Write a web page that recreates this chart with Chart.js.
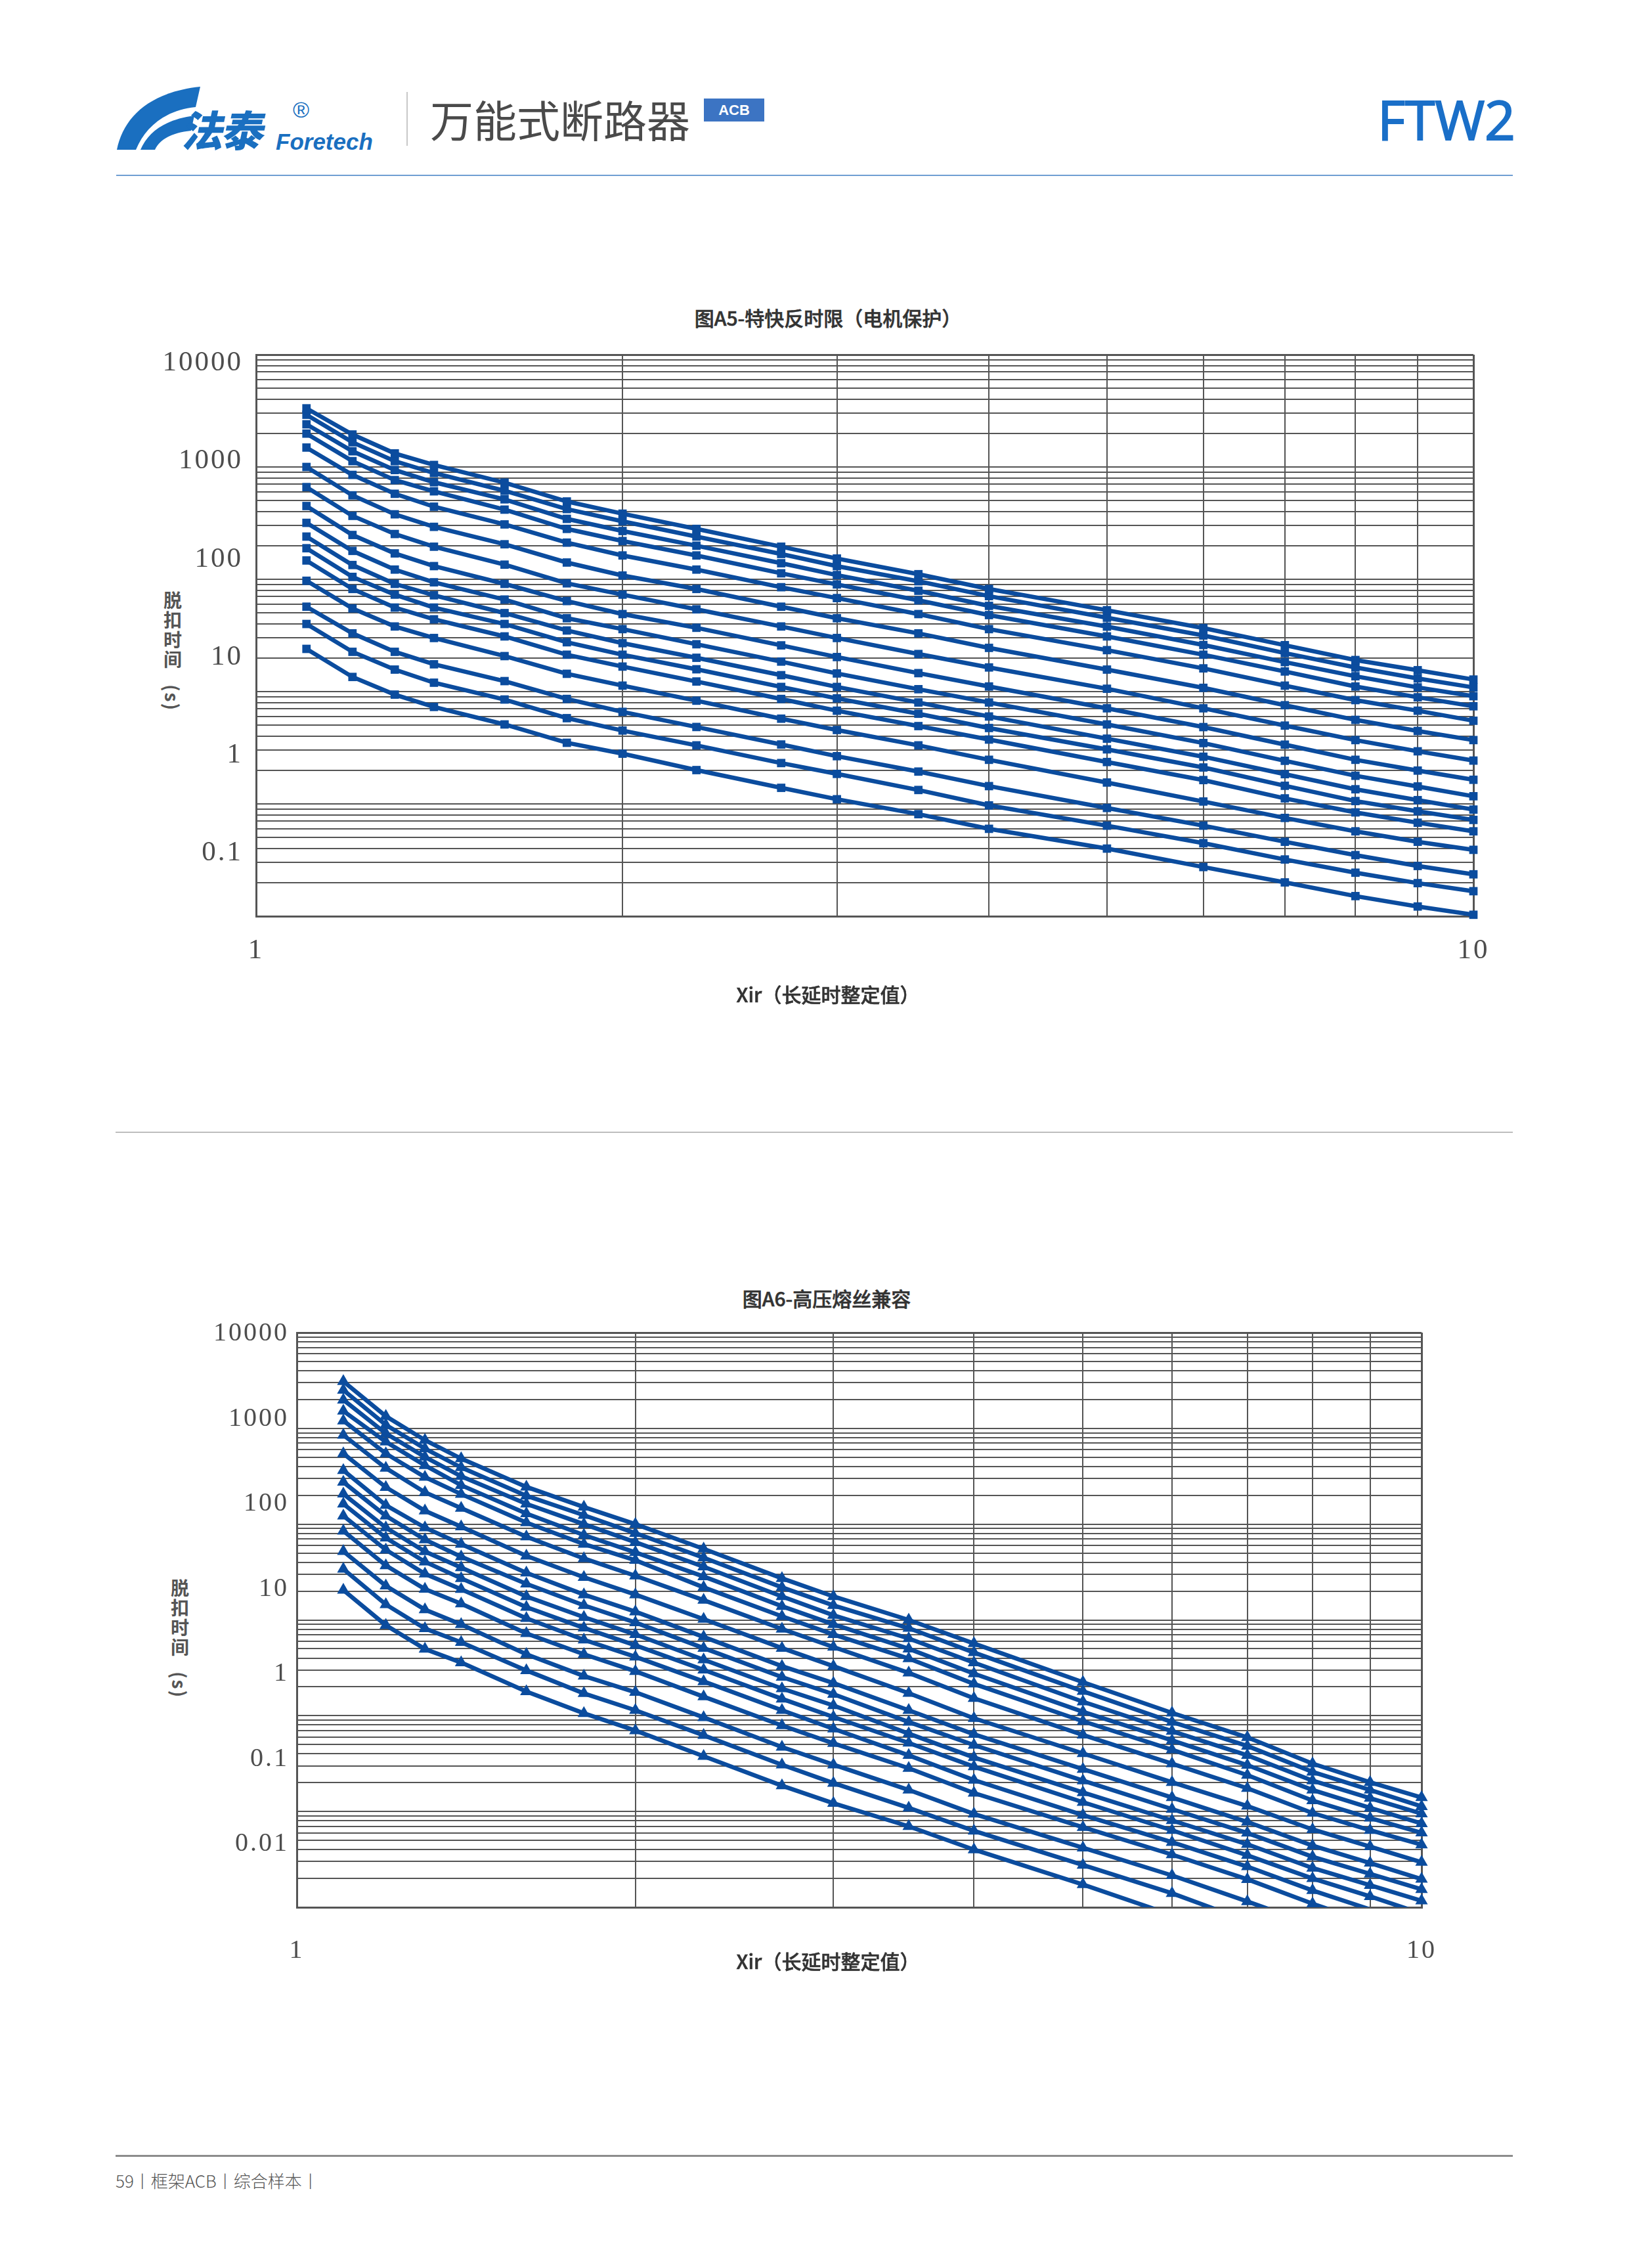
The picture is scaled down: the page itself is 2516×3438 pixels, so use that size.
<!DOCTYPE html>
<html lang="zh-CN">
<head>
<meta charset="utf-8">
<title>FTW2 万能式断路器 - 图A5 / 图A6</title>
<script src="https://cdn.jsdelivr.net/npm/chart.js@4.4.1/dist/chart.umd.min.js"></script>
<style>
  html, body { margin: 0; padding: 0; background: #fff; }
  #page { position: relative; width: 2516px; height: 3438px; overflow: hidden;
          font-family: "Noto Sans CJK SC", "Noto Sans", sans-serif; }
  .abs { position: absolute; white-space: nowrap; line-height: 1; }
  .hline { position: absolute; }
  .ctitle { font-size: 30px; color: #333; font-weight: 500; -webkit-text-stroke: 0.6px #333; transform: translateX(-50%); }
  .ytitle { writing-mode: vertical-rl; font-size: 28px; letter-spacing: 2px; color: #555; font-weight: 600; }
  canvas { position: absolute; }
</style>
</head>
<body>
<div id="page">

  <!-- header / logo -->
  <svg class="abs" style="left:0;top:0" width="640" height="260">
    <path d="M178,228 C188,178 228,140 305,132 L298,163 C252,168 222,192 207,228 Z" fill="#1a6fc0"/>
    <path d="M214,228 C226,200 252,182 296,176 L291,199 C262,202 243,212 236,228 Z" fill="#1a6fc0"/>
  </svg>
  <div class="abs" style="left:281px;top:163px;font-size:64px;font-weight:900;color:#1a6fc0;transform:skewX(-12deg);letter-spacing:-3px">法泰</div>
  <div class="abs" style="left:446px;top:150px;font-size:34px;color:#1a6fc0;font-family:'Liberation Sans',sans-serif">®</div>
  <div class="abs" style="left:420px;top:198px;font-size:35px;font-weight:700;font-style:italic;color:#1a6fc0;font-family:'Liberation Sans',sans-serif">Foretech</div>
  <div class="hline" style="left:619px;top:140px;width:2px;height:82px;background:#c8c8c8"></div>
  <div class="abs" style="left:655px;top:147px;font-size:66px;color:#4a4a4a">万能式断路器</div>
  <div class="abs" style="left:1072px;top:150px;width:92px;height:35px;background:#3c74c3;color:#fff;font:700 22px 'Liberation Sans',sans-serif;text-align:center;line-height:35px">ACB</div>
  <div class="abs" style="right:208px;top:140px;font-size:82px;font-weight:500;color:#1a6fc8;-webkit-text-stroke:2px #1a6fc8;font-family:'Open Sans',sans-serif">FTW2</div>
  <div class="hline" style="left:177px;top:266px;width:2127px;height:2px;background:#6f9fd2"></div>

  <!-- chart A5 -->
  <div class="abs ctitle" style="left:1261px;top:468px">图A5-特快反时限（电机保护）</div>
  <div class="abs ytitle" style="left:249px;top:900px">脱扣时间</div>
  <div class="abs ytitle" style="left:249px;top:1042px">(s)</div>
  <canvas id="chartA5" width="2200" height="1000" style="left:150px;top:500px;width:2200px;height:1000px"></canvas>
  <div class="abs ctitle" style="left:1261px;top:1498px">Xir（长延时整定值）</div>

  <div class="hline" style="left:176px;top:1723px;width:2128px;height:2px;background:#bdbdbd"></div>

  <!-- chart A6 -->
  <div class="abs ctitle" style="left:1259px;top:1961px">图A6-高压熔丝兼容</div>
  <div class="abs ytitle" style="left:260px;top:2404px">脱扣时间</div>
  <div class="abs ytitle" style="left:260px;top:2545px">(s)</div>
  <canvas id="chartA6" width="2100" height="1020" style="left:150px;top:1990px;width:2100px;height:1020px"></canvas>
  <div class="abs ctitle" style="left:1261px;top:2970px">Xir（长延时整定值）</div>

  <!-- footer -->
  <div class="hline" style="left:176px;top:3281px;width:2128px;height:3px;background:#8c8c8c"></div>
  <div class="abs" style="left:176px;top:3307px;font-size:26px;color:#555;font-weight:300">59丨框架ACB丨综合样本丨</div>
</div>

<script>
// multiples of Ir where the curves have a marker
const xSteps = [1.1, 1.2, 1.3, 1.4, 1.6, 1.8, 2, 2.3, 2.7, 3, 3.5, 4, 5, 6, 7, 8, 9, 10];

// 图A5 特快反时限 - trip time (s), one array per curve, top to bottom
const a5_01 = [3327, 1946, 1321, 1042, 726, 493, 384, 281, 195, 153, 111, 82, 53, 36.8, 25.9, 19.1, 15.5, 12.8];
const a5_02 = [2917, 1660, 1127, 883, 614, 422, 328, 240, 168, 131, 96, 70.8, 45.5, 31.6, 22, 16.4, 13.1, 10.9];
const a5_03 = [2399, 1380, 939, 731, 515, 345, 269, 199, 139, 109, 79, 58, 37.9, 26, 18.3, 13.7, 10.9, 9.1];
const a5_04 = [1982, 1127, 764, 607, 417, 281, 219, 163, 113, 90, 65, 48, 31, 21.3, 15.1, 11.1, 8.9, 7.4];
const a5_05 = [1489, 850, 577, 443, 308, 212, 163, 122, 85, 68, 49, 36, 23.4, 16.1, 11.3, 8.4, 6.76, 5.5];
const a5_06 = [1000, 559, 379, 293, 205, 141, 108, 82, 57, 45, 33, 24.5, 15.7, 10.8, 7.56, 5.6, 4.46, 3.7];
const a5_07 = [662, 367, 253, 195, 135, 92, 73, 54, 38, 30, 21.6, 16.4, 10.6, 7.1, 4.98, 3.7, 2.94, 2.43];
const a5_08 = [449, 248, 170, 131, 91, 64, 49, 37, 25.8, 20.3, 14.6, 11.1, 7.1, 4.83, 3.37, 2.47, 1.98, 1.64];
const a5_09 = [318, 179, 122, 94, 66, 45, 36, 26.4, 18.5, 14.5, 10.5, 8.0, 5.1, 3.48, 2.42, 1.78, 1.43, 1.17];
const a5_10 = [240, 134, 91, 72, 50, 35, 27, 20, 14, 11, 8.0, 6.0, 3.81, 2.63, 1.84, 1.35, 1.08, 0.89];
const a5_11 = [189, 105, 73, 56, 40, 27.5, 21.3, 15.8, 11, 8.7, 6.35, 4.74, 3.06, 2.11, 1.45, 1.06, 0.86, 0.72];
const a5_12 = [147, 82, 56, 44, 31, 21.3, 16.7, 12.3, 8.6, 6.76, 4.93, 3.74, 2.36, 1.63, 1.12, 0.84, 0.68, 0.57];
const a5_13 = [97, 55, 38, 30, 20.7, 14.4, 11.3, 8.3, 5.74, 4.55, 3.32, 2.47, 1.55, 1.05, 0.75, 0.57, 0.46, 0.39];
const a5_14 = [57, 33, 22.6, 17.5, 12.4, 8.6, 6.6, 4.84, 3.38, 2.66, 1.94, 1.44, 0.92, 0.64, 0.46, 0.35, 0.28, 0.236];
const a5_15 = [40, 22.6, 15.7, 12, 8.5, 5.8, 4.5, 3.32, 2.31, 1.85, 1.33, 0.97, 0.64, 0.447, 0.32, 0.244, 0.197, 0.167];
const a5_16 = [24, 13.5, 9.4, 7.3, 5.1, 3.5, 2.8, 2.0, 1.39, 1.1, 0.81, 0.60, 0.40, 0.274, 0.20, 0.151, 0.122, 0.103];

// 图A6 高压熔丝兼容 - lower curves run off the 0.01 s floor (null = not plotted)
const a6_01 = [3097, 1340, 754, 484, 245, 151, 100, 55.3, 27.2, 17.6, 10.0, 5.68, 2.24, 1.07, 0.594, 0.316, 0.202, 0.14];
const a6_02 = [2512, 1087, 615, 391, 198, 124, 80.5, 44.6, 21.9, 14.2, 8.2, 4.57, 1.80, 0.86, 0.483, 0.259, 0.168, 0.113];
const a6_03 = [1986, 886, 503, 316, 163, 100, 64.8, 35.9, 17.6, 11.2, 6.4, 3.58, 1.40, 0.69, 0.386, 0.21, 0.138, 0.095];
const a6_04 = [1520, 724, 411, 255, 129, 77, 50.8, 28.4, 13.9, 9.0, 5.0, 2.75, 1.10, 0.552, 0.305, 0.168, 0.109, 0.075];
const a6_05 = [1202, 546, 310, 206, 104, 62, 42, 21.9, 10.9, 7.06, 3.95, 2.15, 0.875, 0.442, 0.24, 0.13, 0.0855, 0.06];
const a6_06 = [851, 385, 215, 147, 74, 43.8, 28.9, 16.1, 8.05, 5.21, 2.8, 1.52, 0.63, 0.316, 0.175, 0.0964, 0.0637, 0.045];
const a6_07 = [546, 243, 138, 94, 46.6, 27.9, 18.4, 10.2, 5.08, 3.29, 1.72, 0.94, 0.404, 0.202, 0.114, 0.065, 0.043, 0.0296];
const a6_08 = [364, 158, 92, 62, 31, 18.4, 12.2, 6.65, 3.29, 2.19, 1.14, 0.64, 0.277, 0.14, 0.0778, 0.044, 0.029, 0.0197];
const a6_09 = [275, 122, 69, 45.7, 23.8, 14.2, 9.4, 5.08, 2.53, 1.68, 0.86, 0.494, 0.21, 0.106, 0.0597, 0.0337, 0.0223, 0.0154];
const a6_10 = [207, 92, 51.8, 35.2, 17.6, 10.7, 7.06, 3.85, 1.92, 1.28, 0.65, 0.367, 0.158, 0.0807, 0.0455, 0.0257, 0.017, 0.0117];
const a6_11 = [163, 72, 40.5, 27.2, 13.6, 8.26, 5.44, 3.01, 1.50, 0.97, 0.52, 0.294, 0.125, 0.0637, 0.0349, 0.02, 0.013, 0.0086];
const a6_12 = [122, 54, 30.3, 20.9, 10.4, 6.2, 4.12, 2.28, 1.14, 0.73, 0.386, 0.213, 0.0918, 0.0478, 0.0266, 0.015, 0.0095, null];
const a6_13 = [85, 37, 21, 14.8, 7.24, 4.38, 2.91, 1.58, 0.79, 0.515, 0.283, 0.156, 0.0684, 0.0355, 0.0196, 0.0109, 0.0068, null];
const a6_14 = [52, 22.7, 12.8, 9.0, 4.38, 2.6, 1.76, 0.96, 0.471, 0.308, 0.168, 0.0944, 0.0418, 0.0215, 0.0115, 0.0066, null, null];
const a6_15 = [34, 14.5, 8.15, 5.84, 2.97, 1.71, 1.14, 0.625, 0.308, 0.198, 0.109, 0.0628, 0.0276, 0.014, 0.0072, null, null, null];
const a6_16 = [20.5, 8.8, 4.97, 3.59, 1.79, 1.06, 0.70, 0.378, 0.186, 0.122, 0.070, 0.040, 0.0173, 0.0083, null, null, null, null];

// axis labels as printed (the printed labels sit a bit off the decade lines)
const a5TickValues = [10000, 1000, 100, 10, 1, 0.1];
const a5TickLabels = ['10000', '1000', '100', '10', '1', '0.1'];
const a6TickValues = [10000, 1000, 100, 10, 1, 0.1, 0.01];
const a6TickLabels = ['10000', '1000', '100', '10', '1', '0.1', '0.01'];
const xTickValues = [1, 10];
const xTickLabels = ['1', '10'];

const a5Series = [a5_01, a5_02, a5_03, a5_04, a5_05, a5_06, a5_07, a5_08,
                  a5_09, a5_10, a5_11, a5_12, a5_13, a5_14, a5_15, a5_16];
const a6Series = [a6_01, a6_02, a6_03, a6_04, a6_05, a6_06, a6_07, a6_08,
                  a6_09, a6_10, a6_11, a6_12, a6_13, a6_14, a6_15, a6_16];

const curveBlue = '#0b4c9e';
const gridGrey = '#555555';
const labelGrey = '#4d4d4d';

// 1..9 x 10^d lines, like log paper
function logGrid(lo, hi) {
    const out = [];
    for (let d = lo; d < hi; d++) {
        for (let k = 1; k <= 9; k++) out.push(k * Math.pow(10, d));
    }
    out.push(Math.pow(10, hi));
    return out;
}

function toPoints(series) {
    const pts = [];
    series.forEach((v, i) => {
        if (v !== null) pts.push({ x: xSteps[i], y: v });
    });
    return pts;
}

// spaced digits like the printed sheet
const spacedLabels = {
    id: 'spacedLabels',
    beforeDraw(chart) { chart.ctx.letterSpacing = '3px'; }
};

function drawCurveChart(canvasId, cfg) {
    const yGrid = logGrid(cfg.yMinExp, cfg.yMaxExp);
    const xGrid = logGrid(0, 1);
    const yMin = Math.pow(10, cfg.yMinExp);
    const yMax = Math.pow(10, cfg.yMaxExp);
    const edgeY = [yMin, yMax];
    const edgeX = [1, 10];

    const datasets = cfg.series.map(s => ({
        data: toPoints(s),
        borderColor: curveBlue,
        backgroundColor: curveBlue,
        borderWidth: 6.5,
        pointStyle: cfg.marker,
        pointRadius: ctx => (ctx.raw && ctx.raw.y < yMin ? 0 : cfg.markerSize),
        pointHoverRadius: cfg.markerSize,
        pointBorderWidth: 0,
        tension: 0,
        clip: cfg.clip
    }));

    return new Chart(document.getElementById(canvasId), {
        type: 'line',
        data: { datasets: datasets },
        plugins: [spacedLabels],
        options: {
            responsive: false,
            maintainAspectRatio: false,
            devicePixelRatio: 1,
            animation: false,
            events: [],
            layout: { padding: { left: 0, top: cfg.padTop, right: cfg.padRight, bottom: 0 } },
            plugins: { legend: { display: false }, tooltip: { enabled: false } },
            scales: {
                x: {
                    type: 'logarithmic', position: 'bottom', min: 1, max: 10, bounds: 'data',
                    afterBuildTicks: s => { s.ticks = xGrid.map(v => ({ value: v })); },
                    afterFit: s => { s.height = cfg.xAxisHeight; s.paddingLeft = 0; s.paddingRight = 0; },
                    ticks: {
                        autoSkip: false, maxRotation: 0, padding: cfg.xPad, color: labelGrey,
                        font: { family: "'Liberation Serif', 'DejaVu Serif', serif", size: cfg.fontSize },
                        callback: v => {
                            const i = xTickValues.indexOf(v);
                            return i >= 0 ? xTickLabels[i] : '';
                        }
                    },
                    grid: {
                        color: gridGrey, drawTicks: false,
                        lineWidth: ctx => (ctx.tick && edgeX.includes(ctx.tick.value) ? 3 : 2)
                    },
                    border: { color: gridGrey, width: 3 }
                },
                y: {
                    type: 'logarithmic', position: 'left', weight: 0, min: yMin, max: yMax, bounds: 'data',
                    afterBuildTicks: s => { s.ticks = yGrid.map(v => ({ value: v })); },
                    afterFit: s => { s.width = 0; s.paddingTop = 0; s.paddingBottom = 0; },
                    ticks: { display: false },
                    grid: {
                        color: gridGrey, drawTicks: false,
                        lineWidth: ctx => (ctx.tick && edgeY.some(e => Math.abs(e - ctx.tick.value) < e * 1e-6) ? 3 : 2)
                    },
                    border: { color: gridGrey, width: 3 }
                },
                // label-only axis, its range puts the printed labels where the sheet has them
                yLab: {
                    type: 'logarithmic', position: 'left', weight: 1,
                    min: cfg.labMin, max: cfg.labMax, bounds: 'data',
                    afterBuildTicks: s => { s.ticks = cfg.tickValues.map(v => ({ value: v })); },
                    afterFit: s => { s.width = cfg.yAxisWidth; s.paddingTop = 0; s.paddingBottom = 0; },
                    ticks: {
                        autoSkip: false, padding: cfg.yPad, color: labelGrey,
                        font: { family: "'Liberation Serif', 'DejaVu Serif', serif", size: cfg.fontSize },
                        callback: (v, i) => cfg.tickLabels[i]
                    },
                    grid: { display: false, drawTicks: false },
                    border: { display: false }
                }
            }
        }
    });
}

console.log('📊 building A5 chart...');
drawCurveChart('chartA5', {
    series: a5Series, marker: 'rect', markerSize: 9,
    yMinExp: -1, yMaxExp: 4,
    labMin: Math.pow(10, -1.6435), labMax: Math.pow(10, 4.0871),
    tickValues: a5TickValues, tickLabels: a5TickLabels,
    padTop: 40, padRight: 106, xAxisHeight: 105, yAxisWidth: 240,
    xPad: 27, yPad: 20, fontSize: 43,
    clip: false
});

console.log('📊 building A6 chart...');
drawCurveChart('chartA6', {
    series: a6Series, marker: 'triangle', markerSize: 11,
    yMinExp: -2, yMaxExp: 4,
    labMin: Math.pow(10, -2.7414), labMax: Math.pow(10, 4.0154),
    tickValues: a6TickValues, tickLabels: a6TickLabels,
    padTop: 39, padRight: 85, xAxisHeight: 106, yAxisWidth: 302,
    xPad: 42, yPad: 12, fontSize: 40,
    clip: { left: 20, top: 20, right: 20, bottom: 0 }
});
console.log('✅ charts done');
</script>
</body>
</html>
